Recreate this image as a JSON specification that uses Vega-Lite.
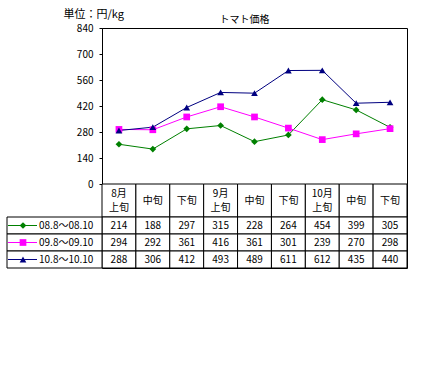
{
  "$schema": "https://vega.github.io/schema/vega-lite/v6.json",
  "background": "white",
  "padding": {"left": 6, "top": 7, "right": 5, "bottom": 5},
  "autosize": {"type": "pad"},
  "spacing": 0,
  "bounds": "flush",
  "config": {
    "view": {"stroke": "black", "strokeWidth": 1},
    "font": "Noto Sans CJK JP",
    "text": {"font": "Noto Sans CJK JP", "fontSize": 10, "color": "black"},
    "axis": {"labelFont": "Noto Sans CJK JP", "titleFont": "Noto Sans CJK JP"}
  },
  "datasets": {
    "prices": [
      {"series": "08.8～08.10", "period": "8月上旬", "value": 214},
      {"series": "08.8～08.10", "period": "8月中旬", "value": 188},
      {"series": "08.8～08.10", "period": "8月下旬", "value": 297},
      {"series": "08.8～08.10", "period": "9月上旬", "value": 315},
      {"series": "08.8～08.10", "period": "9月中旬", "value": 228},
      {"series": "08.8～08.10", "period": "9月下旬", "value": 264},
      {"series": "08.8～08.10", "period": "10月上旬", "value": 454},
      {"series": "08.8～08.10", "period": "10月中旬", "value": 399},
      {"series": "08.8～08.10", "period": "10月下旬", "value": 305},
      {"series": "09.8～09.10", "period": "8月上旬", "value": 294},
      {"series": "09.8～09.10", "period": "8月中旬", "value": 292},
      {"series": "09.8～09.10", "period": "8月下旬", "value": 361},
      {"series": "09.8～09.10", "period": "9月上旬", "value": 416},
      {"series": "09.8～09.10", "period": "9月中旬", "value": 361},
      {"series": "09.8～09.10", "period": "9月下旬", "value": 301},
      {"series": "09.8～09.10", "period": "10月上旬", "value": 239},
      {"series": "09.8～09.10", "period": "10月中旬", "value": 270},
      {"series": "09.8～09.10", "period": "10月下旬", "value": 298},
      {"series": "10.8～10.10", "period": "8月上旬", "value": 288},
      {"series": "10.8～10.10", "period": "8月中旬", "value": 306},
      {"series": "10.8～10.10", "period": "8月下旬", "value": 412},
      {"series": "10.8～10.10", "period": "9月上旬", "value": 493},
      {"series": "10.8～10.10", "period": "9月中旬", "value": 489},
      {"series": "10.8～10.10", "period": "9月下旬", "value": 611},
      {"series": "10.8～10.10", "period": "10月上旬", "value": 612},
      {"series": "10.8～10.10", "period": "10月中旬", "value": 435},
      {"series": "10.8～10.10", "period": "10月下旬", "value": 440}
    ],
    "periods": [
      {"period": "8月上旬", "label": "8月\n上旬", "lines": 2},
      {"period": "8月中旬", "label": "中旬", "lines": 1},
      {"period": "8月下旬", "label": "下旬", "lines": 1},
      {"period": "9月上旬", "label": "9月\n上旬", "lines": 2},
      {"period": "9月中旬", "label": "中旬", "lines": 1},
      {"period": "9月下旬", "label": "下旬", "lines": 1},
      {"period": "10月上旬", "label": "10月\n上旬", "lines": 2},
      {"period": "10月中旬", "label": "中旬", "lines": 1},
      {"period": "10月下旬", "label": "下旬", "lines": 1}
    ],
    "series": [
      {"series": "08.8～08.10"},
      {"series": "09.8～09.10"},
      {"series": "10.8～10.10"}
    ]
  },
  "vconcat": [
    {
      "width": 305,
      "height": 156,
      "data": {"name": "prices"},
      "title": {"text": "トマト価格", "fontSize": 10, "fontWeight": "normal", "font": "Noto Sans CJK JP", "frame": "group", "anchor": "middle", "offset": -17, "dx": -10, "color": "black"},
      "encoding": {
        "x": {"field": "period", "type": "nominal", "scale": {"type": "point", "padding": 0.5, "domain": ["8月上旬","8月中旬","8月下旬","9月上旬","9月中旬","9月下旬","10月上旬","10月中旬","10月下旬"]}, "axis": null},
        "y": {"field": "value", "type": "quantitative", "scale": {"domain": [0, 840]},
          "axis": {"values": [0, 140, 280, 420, 560, 700, 840], "title": "単位：円/kg", "titleAngle": 0, "titleX": -39, "titleY": -14, "titleAlign": "left", "titleBaseline": "middle", "titleFontSize": 11, "titleFontWeight": "normal", "titleColor": "black", "grid": false, "tickSize": 3, "labelPadding": 6, "labelFontSize": 10, "labelColor": "black", "domainColor": "black", "tickColor": "black", "labelFlush": false}},
        "color": {"field": "series", "type": "nominal", "scale": {"domain": ["08.8～08.10","09.8～09.10","10.8～10.10"], "range": ["#008000", "#FF00FF", "#000080"]}, "legend": null}
      },
      "layer": [
        {"mark": {"type": "line", "strokeWidth": 1}},
        {"mark": {"type": "point", "filled": true, "opacity": 1, "size": 45},
          "encoding": {"shape": {"field": "series", "type": "nominal", "scale": {"domain": ["08.8～08.10","09.8～09.10","10.8～10.10"], "range": ["diamond", "square", "triangle-up"]}, "legend": null}}}
      ]
    },
    {
      "width": 305,
      "height": 33,
      "data": {"name": "periods"},
      "encoding": {
        "x": {"field": "period", "type": "nominal", "scale": {"paddingInner": 0, "paddingOuter": 0, "domain": ["8月上旬","8月中旬","8月下旬","9月上旬","9月中旬","9月下旬","10月上旬","10月中旬","10月下旬"]}, "axis": null}
      },
      "layer": [
        {"mark": {"type": "rect", "fill": "white", "stroke": "black", "strokeWidth": 1}},
        {"transform": [{"filter": "datum.lines == 2"}],
          "mark": {"type": "text", "lineBreak": "\n", "lineHeight": 14, "baseline": "middle", "dy": -7, "fontSize": 10}, "encoding": {"text": {"field": "label"}}},
        {"transform": [{"filter": "datum.lines == 1"}],
          "mark": {"type": "text", "baseline": "middle", "fontSize": 10}, "encoding": {"text": {"field": "label"}}}
      ]
    },
    {
      "width": 305,
      "height": 51,
      "resolve": {"scale": {"x": "independent"}},
      "layer": [
        {
          "data": {"name": "prices"},
          "encoding": {
            "x": {"field": "period", "type": "nominal", "scale": {"paddingInner": 0, "paddingOuter": 0, "domain": ["8月上旬","8月中旬","8月下旬","9月上旬","9月中旬","9月下旬","10月上旬","10月中旬","10月下旬"]}, "axis": null},
            "y": {"field": "series", "type": "nominal", "scale": {"paddingInner": 0, "paddingOuter": 0, "domain": ["08.8～08.10","09.8～09.10","10.8～10.10"]}, "axis": null}
          },
          "layer": [
            {"mark": {"type": "rect", "fill": "white", "stroke": "black", "strokeWidth": 1}},
            {"mark": {"type": "text", "baseline": "middle", "fontSize": 10}, "encoding": {"text": {"field": "value", "type": "quantitative"}}}
          ]
        },
        {
          "data": {"name": "series"},
          "encoding": {
            "y": {"field": "series", "type": "nominal", "scale": {"paddingInner": 0, "paddingOuter": 0, "domain": ["08.8～08.10","09.8～09.10","10.8～10.10"]}, "axis": null}
          },
          "layer": [
            {"mark": {"type": "rect", "fill": "white", "stroke": "black", "strokeWidth": 1},
              "encoding": {"x": {"datum": 0, "type": "quantitative", "scale": {"domain": [0, 95], "range": [-95, 0]}, "axis": null}, "x2": {"datum": 95}}},
            {"mark": {"type": "rule", "strokeWidth": 1},
              "encoding": {"x": {"datum": 1, "type": "quantitative", "scale": {"domain": [0, 95], "range": [-95, 0]}, "axis": null}, "x2": {"datum": 30},
                "color": {"field": "series", "type": "nominal", "scale": {"domain": ["08.8～08.10","09.8～09.10","10.8～10.10"], "range": ["#008000", "#FF00FF", "#000080"]}, "legend": null}}},
            {"mark": {"type": "point", "filled": true, "opacity": 1, "size": 45},
              "encoding": {"x": {"datum": 16, "type": "quantitative", "scale": {"domain": [0, 95], "range": [-95, 0]}, "axis": null},
                "color": {"field": "series", "type": "nominal", "scale": {"domain": ["08.8～08.10","09.8～09.10","10.8～10.10"], "range": ["#008000", "#FF00FF", "#000080"]}, "legend": null},
                "shape": {"field": "series", "type": "nominal", "scale": {"domain": ["08.8～08.10","09.8～09.10","10.8～10.10"], "range": ["diamond", "square", "triangle-up"]}, "legend": null}}},
            {"mark": {"type": "text", "align": "left", "baseline": "middle", "fontSize": 10},
              "encoding": {"x": {"datum": 32, "type": "quantitative", "scale": {"domain": [0, 95], "range": [-95, 0]}, "axis": null}, "text": {"field": "series"}}}
          ]
        }
      ]
    }
  ]
}
